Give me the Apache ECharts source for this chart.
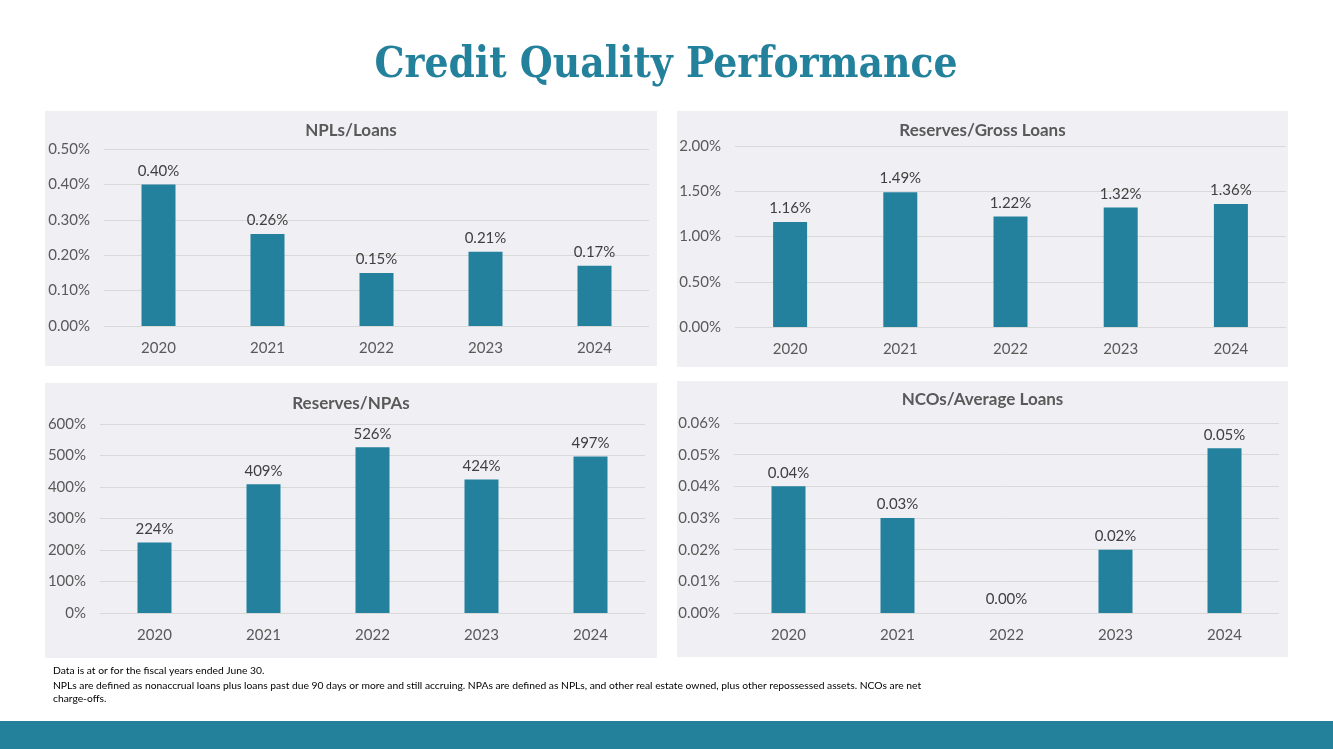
<!DOCTYPE html>
<html>
<head>
<meta charset="utf-8">
<title>Credit Quality Performance</title>
<script src="https://cdn.jsdelivr.net/npm/echarts@6/dist/echarts.min.js"></script>
<style>
  html, body { margin: 0; padding: 0; background: #fff; }
  #chart { width: 1333px; height: 749px; }
</style>
</head>
<body>
<div id="chart"></div>
<script>
// fiscal years, shared by all four panels
const years = ['2020', '2021', '2022', '2023', '2024'];

// values in percent
const nplsToLoans = [0.40, 0.26, 0.15, 0.21, 0.17];
const reservesToGrossLoans = [1.16, 1.49, 1.22, 1.32, 1.36];
const reservesToNpas = [224, 409, 526, 424, 497];
const ncosToAvgLoans = [0.04, 0.03, 0.00, 0.02, 0.052];

const panelTitles = ['NPLs/Loans', 'Reserves/Gross Loans', 'Reserves/NPAs', 'NCOs/Average Loans'];
const axisMax = [0.5, 2, 600, 0.06];
const axisStep = [0.1, 0.5, 100, 0.01];
const decimals = [2, 2, 0, 2];

const teal = '#23819e';
const textGray = '#595959';
const font = 'Lato, "Noto Sans", sans-serif';

const chart = echarts.init(document.getElementById('chart'));

// panel boxes and plot areas (px)
const panels = [
  { x: 45, y: 111, w: 612, h: 255 },
  { x: 677, y: 111, w: 611, h: 256 },
  { x: 45, y: 383, w: 612, h: 275 },
  { x: 677, y: 381, w: 611, h: 276 }
];
const grids = [
  { left: 104, top: 149, width: 545, height: 177 },
  { left: 735, top: 146, width: 551, height: 181 },
  { left: 100, top: 424, width: 545, height: 189 },
  { left: 734, top: 423, width: 545, height: 190 }
];
const titleY = [130, 130, 403, 399];
const seriesData = [nplsToLoans, reservesToGrossLoans, reservesToNpas, ncosToAvgLoans];

const graphics = [];
panels.forEach(p => {
  graphics.push({
    type: 'rect', z: -10, silent: true,
    shape: { x: p.x, y: p.y, width: p.w, height: p.h },
    style: { fill: '#f0f0f4' }
  });
});
graphics.push({
  type: 'text', x: 666, y: 66,
  style: {
    text: 'Credit Quality Performance',
    font: 'bold 42px "DejaVu Serif Condensed", "DejaVu Serif", serif',
    fill: '#23819c', align: 'center', verticalAlign: 'middle'
  }
});
const notes = [
  'Data is at or for the fiscal years ended June 30.',
  'NPLs are defined as nonaccrual loans plus loans past due 90 days or more and still accruing. NPAs are defined as NPLs, and other real estate owned, plus other repossessed assets. NCOs are net',
  'charge-offs.'
];
const noteY = [671, 686, 699];
notes.forEach((t, i) => {
  graphics.push({
    type: 'text', x: 53, y: noteY[i],
    style: { text: t, font: '10.3px ' + font, fill: '#000', align: 'left', verticalAlign: 'middle' }
  });
});
graphics.push({
  type: 'rect', silent: true,
  shape: { x: 0, y: 721, width: 1333, height: 28 },
  style: { fill: '#23819c' }
});

const option = {
  animation: false,
  textStyle: { fontFamily: font },
  title: panels.map((p, i) => ({
    text: panelTitles[i],
    left: p.x + p.w / 2,
    top: titleY[i] - 8,
    textAlign: 'center',
    padding: 0,
    textStyle: { fontSize: 17, fontWeight: 'bold', color: textGray, fontFamily: font }
  })),
  grid: grids,
  xAxis: grids.map((g, i) => ({
    type: 'category',
    gridIndex: i,
    data: years,
    axisLine: { show: false },
    axisTick: { show: false },
    axisLabel: { color: textGray, fontSize: 15, margin: 15 }
  })),
  yAxis: grids.map((g, i) => ({
    type: 'value',
    gridIndex: i,
    min: 0,
    max: axisMax[i],
    interval: axisStep[i],
    axisLine: { show: false },
    axisTick: { show: false },
    splitLine: { lineStyle: { color: '#d9d9d9', width: 1 } },
    axisLabel: {
      color: textGray, fontSize: 15, margin: 14,
      formatter: v => v.toFixed(decimals[i]) + '%'
    }
  })),
  series: seriesData.map((d, i) => ({
    type: 'bar',
    xAxisIndex: i,
    yAxisIndex: i,
    data: d,
    barWidth: 34,
    itemStyle: { color: teal },
    label: {
      show: true,
      position: 'top',
      distance: 6,
      color: '#404040',
      fontSize: 15,
      formatter: p => p.value.toFixed(decimals[i]) + '%'
    }
  })),
  graphic: graphics
};

chart.setOption(option);
</script>
</body>
</html>
